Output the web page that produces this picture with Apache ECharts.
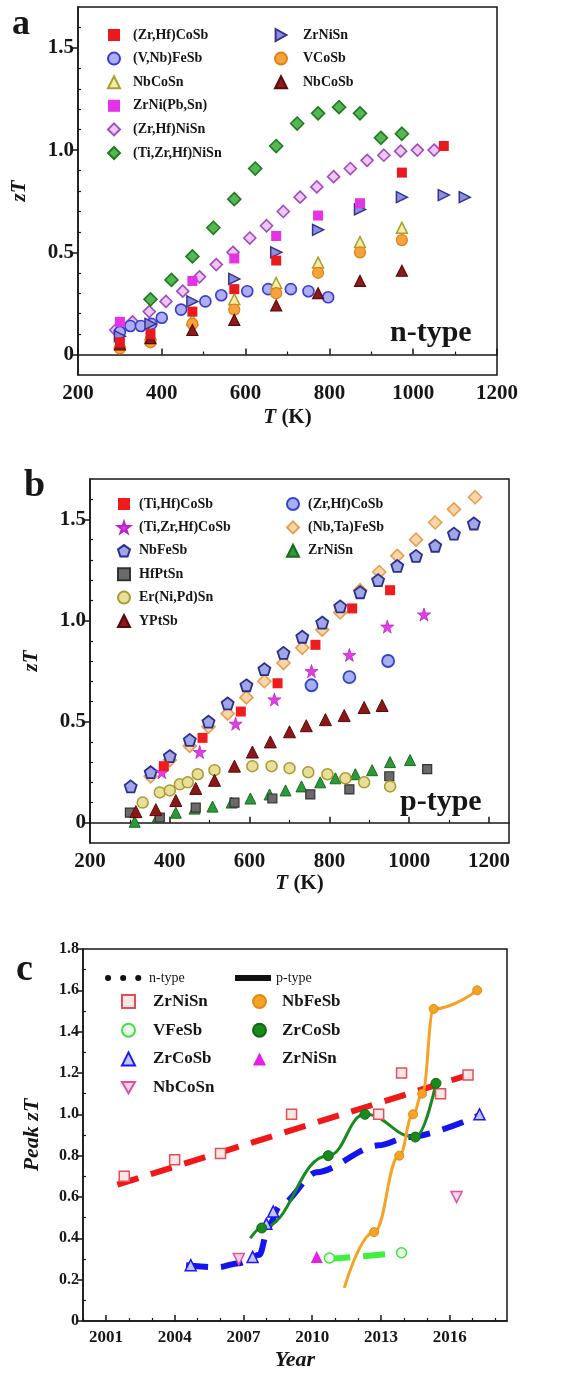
<!DOCTYPE html>
<html>
<head>
<meta charset="utf-8">
<script src="https://cdn.jsdelivr.net/npm/echarts@6/dist/echarts.min.js"></script>
<style>
  html, body { margin: 0; padding: 0; background: #fff; }
  #chart { width: 568px; height: 1374px; }
</style>
</head>
<body>
<div id="chart"></div>
<script>
// ---------- panel a : n-type half-Heusler zT vs T ----------
const a_ZrHfCoSb   = [[300,0.06],[373,0.10],[473,0.21],[573,0.32],[673,0.46],[973,0.89],[1073,1.02]];
const a_VNbFeSb    = [[300,0.11],[325,0.14],[350,0.14],[375,0.15],[400,0.18],[446,0.22],[504,0.26],[542,0.29],[604,0.31],[654,0.32],[708,0.32],[750,0.31],[797,0.28]];
const a_NbCoSn     = [[300,0.06],[373,0.10],[473,0.17],[573,0.27],[673,0.35],[773,0.45],[873,0.55],[973,0.62]];
const a_ZrNiPbSn   = [[300,0.16],[473,0.36],[573,0.47],[673,0.58],[773,0.68],[873,0.74]];
const a_ZrHfNiSn   = [[290,0.12],[330,0.16],[370,0.21],[410,0.26],[450,0.31],[490,0.38],[530,0.44],[570,0.50],[610,0.57],[650,0.63],[690,0.70],[730,0.77],[770,0.82],[810,0.87],[850,0.91],[890,0.95],[930,0.975],[970,0.995],[1010,1.00],[1050,1.00]];
const a_TiZrHfNiSn = [[373,0.27],[423,0.365],[473,0.48],[523,0.62],[573,0.76],[623,0.91],[673,1.02],[723,1.13],[773,1.18],[823,1.21],[873,1.18],[923,1.06],[973,1.08]];
const a_ZrNiSn     = [[300,0.09],[373,0.15],[473,0.26],[573,0.37],[673,0.50],[773,0.61],[873,0.71],[973,0.77],[1073,0.78],[1123,0.77]];
const a_VCoSb      = [[300,0.03],[373,0.06],[473,0.15],[573,0.22],[673,0.30],[773,0.40],[873,0.50],[973,0.56]];
const a_NbCoSb     = [[300,0.05],[373,0.08],[473,0.12],[573,0.17],[673,0.24],[773,0.30],[873,0.36],[973,0.41]];

// ---------- panel b : p-type half-Heusler zT vs T ----------
const b_TiHfCoSb   = [[385,0.28],[482,0.42],[578,0.55],[670,0.69],[765,0.88],[857,1.06],[952,1.15]];
const b_TiZrHfCoSb = [[380,0.25],[475,0.35],[565,0.49],[662,0.61],[755,0.75],[850,0.83],[945,0.97],[1037,1.03]];
const b_NbFeSb     = [[302,0.18],[352,0.25],[400,0.33],[450,0.41],[497,0.50],[545,0.59],[592,0.68],[637,0.76],[685,0.84],[732,0.92],[782,0.99],[827,1.07],[877,1.14],[922,1.20],[970,1.27],[1017,1.32],[1065,1.37],[1112,1.43],[1162,1.48]];
const b_HfPtSn     = [[300,0.05],[375,0.025],[465,0.075],[562,0.10],[657,0.12],[752,0.14],[850,0.165],[950,0.23],[1045,0.265]];
const b_ErNiPdSn   = [[332,0.10],[375,0.15],[400,0.16],[425,0.19],[445,0.20],[470,0.24],[512,0.26],[607,0.28],[655,0.28],[700,0.27],[747,0.25],[795,0.24],[840,0.22],[887,0.20],[952,0.18]];
const b_YPtSb      = [[315,0.055],[365,0.065],[415,0.11],[465,0.17],[512,0.21],[562,0.28],[607,0.35],[652,0.40],[700,0.45],[742,0.48],[790,0.51],[837,0.53],[887,0.57],[932,0.58]];
const b_ZrHfCoSb   = [[755,0.68],[850,0.72],[947,0.80]];
const b_NbTaFeSb   = [[352,0.23],[400,0.31],[450,0.38],[497,0.475],[545,0.54],[592,0.62],[637,0.70],[685,0.79],[732,0.865],[782,0.955],[827,1.04],[877,1.15],[925,1.24],[970,1.32],[1017,1.40],[1065,1.485],[1112,1.55],[1165,1.61]];
const b_ZrNiSn     = [[312,0.005],[370,0.03],[415,0.05],[462,0.07],[507,0.08],[555,0.10],[602,0.12],[650,0.14],[690,0.16],[730,0.18],[777,0.20],[815,0.22],[865,0.24],[907,0.26],[952,0.30],[1002,0.31]];

// ---------- panel c : peak zT vs year ----------
const c_ZrNiSn_n     = [[2001.8,0.70],[2004.0,0.78],[2006.0,0.81],[2009.1,1.00],[2012.9,1.00],[2013.9,1.20],[2015.6,1.10],[2016.8,1.19]];
const c_ZrNiSn_trend = [[2001.5,0.66],[2016.8,1.19]];
const c_VFeSb        = [[2010.75,0.305],[2013.9,0.33]];
const c_VFeSb_trend  = [[2010.7,0.30],[2014.0,0.33]];
const c_ZrCoSb_n     = [[2004.7,0.27],[2007.4,0.31],[2008.0,0.47],[2008.3,0.53],[2017.3,1.00]];
const c_ZrCoSb_trend = [[2004.5,0.27],[2005.9,0.26],[2006.8,0.28],[2007.7,0.32],[2008.1,0.46],[2008.6,0.56],[2010.2,0.72],[2012.9,0.85],[2014.2,0.89],[2017.4,1.00]];
const c_NbCoSn       = [[2006.8,0.30],[2016.3,0.60]];
const c_NbFeSb_start = [2011.4,0.16];
const c_NbFeSb       = [[2012.7,0.43],[2013.8,0.80],[2014.4,1.00],[2014.8,1.10],[2015.3,1.51],[2017.2,1.60]];
const c_ZrCoSb_start = [2007.3,0.40];
const c_ZrCoSb_p     = [[2007.8,0.45],[2010.7,0.80],[2012.3,1.00],[2014.5,0.89],[2015.4,1.15]];
const c_ZrNiSn_p     = [[2010.2,0.31]];

// ---------- tick values ----------
const aXMajor = [200,400,600,800,1000,1200];
const aXMinor = [300,500,700,900,1100];
const bXMajor = [200,400,600,800,1000,1200];
const bXMinor = [300,500,700,900,1100];
const zYMajor = [0,0.5,1.0,1.5];
const zYMinor = [0.1,0.2,0.3,0.4,0.6,0.7,0.8,0.9,1.1,1.2,1.3,1.4,1.6];
const cXMajor = [2001,2004,2007,2010,2013,2016];
const cXMinor = [2000,2002,2003,2005,2006,2008,2009,2011,2012,2014,2015,2017,2018];
const cYMajor = [0,0.2,0.4,0.6,0.8,1.0,1.2,1.4,1.6,1.8];
const cYMinor = [0.1,0.3,0.5,0.7,0.9,1.1,1.3,1.5,1.7];

const SERIF = '"Liberation Serif", "DejaVu Serif", serif';
const INK = '#161616';

const SYM_STAR = 'path://M50,0 L61,35 L98,35 L68,57 L79,91 L50,70 L21,91 L32,57 L2,35 L39,35 Z';
const SYM_PENT = 'path://M50,0 L98,35 L79,91 L21,91 L2,35 Z';
const SYM_RTRI = 'path://M0,0 L90,50 L0,100 Z';
const SYM_DTRI = 'path://M0,0 L100,0 L50,87 Z';

const grids = [
  { left: 78, top: 7,   width: 419, height: 368 },
  { left: 90, top: 479, width: 419, height: 364 },
  { left: 83, top: 949, width: 424, height: 372 }
].map(g => Object.assign(g, { show: true, borderColor: INK, borderWidth: 1.5, backgroundColor: 'transparent' }));

function fmtZ(v) { return v === 0 ? '0' : v.toFixed(1); }
function fmtInt(v) { return String(Math.round(v)); }

function mainX(gi, min, max, majors, name, gap, fs, nameFs) {
  return {
    type: 'value', gridIndex: gi, min, max, position: 'bottom',
    axisLine: { lineStyle: { color: INK, width: 1.5 } },
    axisTick: { customValues: majors, inside: true, length: 6, lineStyle: { color: INK, width: 1.5 } },
    axisLabel: { customValues: majors, formatter: fmtInt, margin: 8, fontFamily: SERIF, fontWeight: 'bold', fontSize: fs, color: INK },
    splitLine: { show: false },
    name, nameLocation: 'middle', nameGap: gap,
    nameTextStyle: { fontFamily: SERIF, fontWeight: 'bold', fontSize: nameFs, color: INK,
      rich: { i: { fontFamily: SERIF, fontWeight: 'bold', fontStyle: 'italic', fontSize: nameFs, color: INK } } }
  };
}
function minorX(gi, min, max, minors) {
  return {
    type: 'value', gridIndex: gi, min, max, position: 'bottom',
    axisLine: { show: false },
    axisTick: { customValues: minors, inside: true, length: 3, lineStyle: { color: INK, width: 1.2 } },
    axisLabel: { show: false }, splitLine: { show: false }
  };
}
function mainY(gi, min, max, majors, name, gap, fs, nameFs) {
  return {
    type: 'value', gridIndex: gi, min, max, position: 'left',
    axisLine: { lineStyle: { color: INK, width: 1.5 } },
    axisTick: { customValues: majors, inside: false, length: 6, lineStyle: { color: INK, width: 1.5 } },
    axisLabel: { customValues: majors, formatter: fmtZ, margin: 4, fontFamily: SERIF, fontWeight: 'bold', fontSize: fs, color: INK },
    splitLine: { show: false },
    name, nameLocation: 'middle', nameGap: gap,
    nameTextStyle: { fontFamily: SERIF, fontWeight: 'bold', fontSize: nameFs, color: INK,
      rich: { i: { fontFamily: SERIF, fontWeight: 'bold', fontStyle: 'italic', fontSize: nameFs, color: INK } } }
  };
}
function minorY(gi, min, max, minors) {
  return {
    type: 'value', gridIndex: gi, min, max, position: 'left',
    axisLine: { show: false },
    axisTick: { customValues: minors, inside: true, length: 3, lineStyle: { color: INK, width: 1.2 } },
    axisLabel: { show: false }, splitLine: { show: false }
  };
}

const xAxis = [
  mainX(0, 200, 1200, aXMajor, '{i|T} (K)', 32, 21, 21), minorX(0, 200, 1200, aXMinor),
  mainX(1, 200, 1250, bXMajor, '{i|T} (K)', 30, 21, 21), minorX(1, 200, 1250, bXMinor),
  mainX(2, 2000, 2018.5, cXMajor, '{i|Year}', 28, 17, 22), minorX(2, 2000, 2018.5, cXMinor)
];
const yAxis = [
  mainY(0, -0.1, 1.7, zYMajor, '{i|zT}', 48, 21, 21), minorY(0, -0.1, 1.7, zYMinor),
  mainY(1, -0.1, 1.7, zYMajor, '{i|zT}', 48, 21, 21), minorY(1, -0.1, 1.7, zYMinor),
  mainY(2, 0, 1.8, cYMajor, '{i|Peak zT}', 40, 16, 22), minorY(2, 0, 1.8, cYMinor)
];

function sc(name, data, ax, symbol, size, fill, border, bw) {
  return {
    type: 'scatter', name, data, xAxisIndex: ax, yAxisIndex: ax,
    symbol, symbolSize: size,
    itemStyle: { color: fill, borderColor: border, borderWidth: bw, opacity: 1 },
    emphasis: { disabled: true }, z: 3
  };
}
function trend(data, color, smooth) {
  return {
    type: 'line', data, xAxisIndex: 4, yAxisIndex: 4, showSymbol: false, symbol: 'none',
    smooth: smooth || false, smoothMonotone: 'x',
    lineStyle: { color, width: 6, type: [22, 13], cap: 'butt' },
    emphasis: { disabled: true }, z: 2, silent: true
  };
}
function solid(start, data, color) {
  return {
    type: 'line', data: [start].concat(data), xAxisIndex: 4, yAxisIndex: 4, showSymbol: false, symbol: 'none',
    smooth: 0.45, smoothMonotone: 'x',
    lineStyle: { color, width: 3 }, emphasis: { disabled: true }, z: 2, silent: true
  };
}

const DOTS = { color: '#111', width: 6, type: [0.1, 15], cap: 'round' };
const BAR  = { color: '#111', width: 6, type: 'solid', cap: 'butt' };

const series = [
  // panel a
  sc('(Zr,Hf)NiSn|a', a_ZrHfNiSn, 0, 'diamond', 12, '#ecc8f2', '#a04cc0', 1.6),
  sc('(Ti,Zr,Hf)NiSn|a', a_TiZrHfNiSn, 0, 'diamond', 13, '#55b655', '#1f7a1f', 1.6),
  sc('(V,Nb)FeSb|a', a_VNbFeSb, 0, 'circle', 11, '#aeaef6', '#3a3ad0', 1.6),
  sc('NbCoSn|a', a_NbCoSn, 0, 'triangle', 11, '#f3eea8', '#a8a030', 1.5),
  sc('VCoSb|a', a_VCoSb, 0, 'circle', 11, '#f7a23a', '#e07f18', 1.2),
  sc('NbCoSb|a', a_NbCoSb, 0, 'triangle', 11, '#8e1a1a', '#5a0a0a', 1.2),
  sc('ZrNiSn|a', a_ZrNiSn, 0, SYM_RTRI, 11, '#8c8ce0', '#34348e', 1.5),
  sc('ZrNi(Pb,Sn)|a', a_ZrNiPbSn, 0, 'rect', 10, '#e532e5', '#e532e5', 0),
  sc('(Zr,Hf)CoSb|a', a_ZrHfCoSb, 0, 'rect', 10, '#e8191f', '#e8191f', 0),
  // panel b
  sc('(Nb,Ta)FeSb|b', b_NbTaFeSb, 2, 'diamond', 13, '#f9d6a8', '#e4a050', 1.6),
  sc('NbFeSb|b', b_NbFeSb, 2, SYM_PENT, 12, '#a0a6e6', '#2b2f8a', 1.8),
  sc('ZrNiSn|b', b_ZrNiSn, 2, 'triangle', 11, '#2a9a3a', '#1a6a1a', 1.0),
  sc('HfPtSn|b', b_HfPtSn, 2, 'rect', 9, '#6a6a6a', '#333333', 1.2),
  sc('Er(Ni,Pd)Sn|b', b_ErNiPdSn, 2, 'circle', 11, '#e8e09a', '#a89a30', 1.5),
  sc('YPtSb|b', b_YPtSb, 2, 'triangle', 12, '#8a1818', '#5a0808', 1.0),
  sc('(Zr,Hf)CoSb|b', b_ZrHfCoSb, 2, 'circle', 12, '#a8b0f5', '#3344cc', 1.8),
  sc('(Ti,Zr,Hf)CoSb|b', b_TiZrHfCoSb, 2, SYM_STAR, 13, '#e23ee6', '#c020c8', 0.8),
  sc('(Ti,Hf)CoSb|b', b_TiHfCoSb, 2, 'rect', 10, '#ee1c1c', '#ee1c1c', 0),
  // panel c : line-style keys (legend only)
  { type: 'line', name: 'n-type', data: [], xAxisIndex: 4, yAxisIndex: 4, symbol: 'none',
    itemStyle: { color: '#111' }, lineStyle: DOTS },
  { type: 'line', name: 'p-type', data: [], xAxisIndex: 4, yAxisIndex: 4, symbol: 'none',
    itemStyle: { color: '#111' }, lineStyle: BAR },
  // panel c : trend curves
  trend(c_ZrNiSn_trend, '#f01818'),
  trend(c_ZrCoSb_trend, '#1414f0', 0.3),
  trend(c_VFeSb_trend, '#3cf03c'),
  solid(c_ZrCoSb_start, c_ZrCoSb_p, '#198a1e'),
  solid(c_NbFeSb_start, c_NbFeSb, '#f5a225'),
  // panel c : markers
  sc('ZrNiSn|cn', c_ZrNiSn_n, 4, 'rect', 10, '#fde6e6', '#e0505a', 1.5),
  sc('VFeSb|cn', c_VFeSb, 4, 'circle', 10, '#eafbea', '#40e040', 1.5),
  sc('ZrCoSb|cn', c_ZrCoSb_n, 4, 'triangle', 11, '#c4c4ff', '#1a1af0', 1.5),
  sc('NbCoSn|cn', c_NbCoSn, 4, SYM_DTRI, 11, '#fbd4ea', '#e050a0', 1.5),
  sc('NbFeSb|cp', c_NbFeSb, 4, 'circle', 9, '#f5a225', '#e08a10', 1.0),
  sc('ZrCoSb|cp', c_ZrCoSb_p, 4, 'circle', 10, '#198a1e', '#0f6a12', 1.0),
  sc('ZrNiSn|cp', c_ZrNiSn_p, 4, 'triangle', 12, '#e81ee8', '#e81ee8', 0)
];

function legend(left, top, data, opts) {
  const o = opts || {};
  const l = {
    left, top, orient: 'vertical', data, selectedMode: false,
    itemWidth: o.w || 12, itemHeight: o.h || 12, itemGap: o.gap,
    formatter: n => n.split('|')[0],
    textStyle: { fontFamily: SERIF, fontWeight: o.weight || 'bold', fontSize: o.fs || 14, color: INK,
      lineHeight: o.h || 12, padding: [0, 0, 0, o.pad || 0] }
  };
  if (o.line) {
    l.lineStyle = o.line;
    l.itemStyle = { opacity: 0 };
  }
  return l;
}

const legends = [
  legend(102, 23, ['(Zr,Hf)CoSb|a','(V,Nb)FeSb|a','NbCoSn|a','ZrNi(Pb,Sn)|a','(Zr,Hf)NiSn|a','(Ti,Zr,Hf)NiSn|a'], { gap: 9.6, pad: 8, fs: 14 }),
  legend(269, 23, ['ZrNiSn|a','VCoSb|a','NbCoSb|a'], { gap: 9.6, pad: 11, fs: 14 }),
  legend(112, 492, ['(Ti,Hf)CoSb|b','(Ti,Zr,Hf)CoSb|b','NbFeSb|b','HfPtSn|b','Er(Ni,Pd)Sn|b','YPtSb|b'], { gap: 9.4, pad: 4, fs: 14 }),
  legend(281, 492, ['(Zr,Hf)CoSb|b','(Nb,Ta)FeSb|b','ZrNiSn|b'], { gap: 9.4, pad: 4, fs: 14 }),
  legend(100, 966, ['n-type'], { w: 36, h: 10, gap: 0, pad: 0, fs: 14, weight: 'normal', line: DOTS }),
  legend(227, 966, ['p-type'], { w: 36, h: 10, gap: 0, pad: 0, fs: 14, weight: 'normal', line: BAR }),
  legend(116, 988, ['ZrNiSn|cn','VFeSb|cn','ZrCoSb|cn','NbCoSn|cn'], { w: 13, h: 13, gap: 11.7, pad: 13, fs: 17 }),
  legend(247, 988, ['NbFeSb|cp','ZrCoSb|cp','ZrNiSn|cp'], { w: 13, h: 13, gap: 11.7, pad: 11, fs: 17 })
];

function label(text, x, y, fs) {
  return { type: 'text', x, y, silent: true,
    style: { text, fill: INK, font: 'bold ' + fs + 'px ' + SERIF, verticalAlign: 'middle', align: 'left' } };
}

const option = {
  animation: false,
  backgroundColor: '#ffffff',
  grid: grids,
  xAxis, yAxis,
  legend: legends,
  series,
  graphic: [
    label('a', 12, 25, 36),
    label('b', 24, 486, 38),
    label('c', 16, 970, 38),
    label('n-type', 390, 333, 30),
    label('p-type', 400, 802, 30)
  ]
};

const chart = echarts.init(document.getElementById('chart'), null, { renderer: 'canvas' });
chart.setOption(option);
</script>
</body>
</html>
